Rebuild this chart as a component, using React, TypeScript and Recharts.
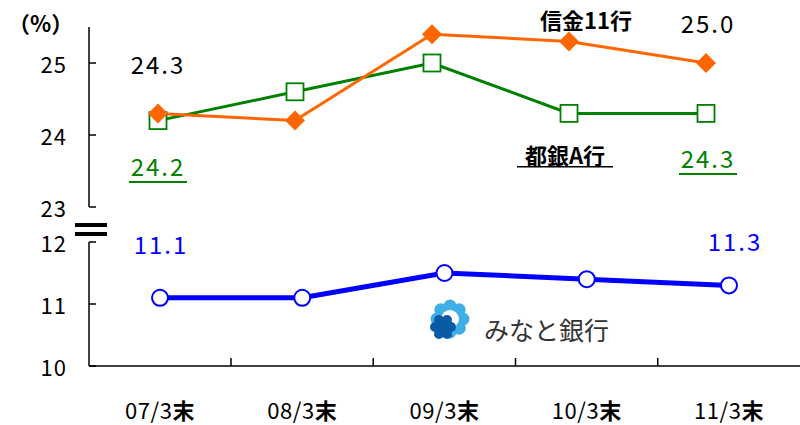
import React from 'react';
import { LineChart, Line, XAxis, YAxis } from 'recharts';

const periods = ['07/3末', '08/3末', '09/3末', '10/3末', '11/3末'];
const shinkin = [24.3, 24.2, 25.4, 25.3, 25.0];
const toginA = [24.2, 24.6, 25.0, 24.3, 24.3];
const minato = [11.1, 11.1, 11.5, 11.4, 11.3];

const upperTicks = [23, 24, 25];
const lowerTicks = [10, 11, 12];

const upperData = periods.map((p, i) => ({ label: p, shinkin: shinkin[i], toginA: toginA[i] }));
const lowerData = periods.map((p, i) => ({ label: p, minato: minato[i] }));

const FONT = '"Noto Sans CJK JP", "Noto Sans", sans-serif';
const W = 800;
const H = 425;

const YTick = (props: any) => {
  const { x, y, payload } = props;
  return (
    <g>
      <line x1={x} y1={y} x2={x + 7} y2={y} stroke="#000" strokeWidth={1.5} />
      <text x={x - 22} y={y} textAnchor="end" dominantBaseline="central" fontSize={22} letterSpacing={1} fontFamily={FONT} fill="#000">
        {payload.value}
      </text>
    </g>
  );
};

const XTick = (props: any) => {
  const { x, y, payload, index } = props;
  const s = String(payload.value);
  const half = 71;
  return (
    <g>
      {index < periods.length - 1 && (
        <line x1={x + half} y1={y} x2={x + half} y2={y - 8} stroke="#000" strokeWidth={1.5} />
      )}
      <text x={x} y={y + 43} textAnchor="middle" dominantBaseline="central" fontSize={22} letterSpacing={0.5} fontFamily={FONT} fill="#000">
        <tspan>{s.slice(0, -1)}</tspan>
        <tspan fontWeight="bold">{s.slice(-1)}</tspan>
      </text>
    </g>
  );
};

const Diamond = (p: any) => {
  const { cx, cy, index } = p;
  const r = 10;
  return (
    <polygon
      key={`d${index}`}
      points={`${cx},${cy - r} ${cx + r},${cy} ${cx},${cy + r} ${cx - r},${cy}`}
      fill="#FF6600"
    />
  );
};

const Square = (p: any) => {
  const { cx, cy, index } = p;
  const s = 8.5;
  return (
    <rect key={`s${index}`} x={cx - s} y={cy - s} width={s * 2} height={s * 2} fill="#fff" stroke="#008000" strokeWidth={1.8} />
  );
};

const Logo = () => {
  const cx = 446;
  const cy = 322;
  const ring = Array.from({ length: 8 }, (_, i) => (i * Math.PI) / 4);
  const inner = Array.from({ length: 6 }, (_, i) => (i * Math.PI) / 3);
  return (
    <g>
      {ring.map((a, i) => (
        <circle key={`o${i}`} cx={cx + 4 + Math.cos(a) * 13} cy={cy - 3 + Math.sin(a) * 13} r={6.5} fill="#3fb0e6" />
      ))}
      <circle cx={cx + 4} cy={cy - 3} r={9} fill="#fff" />
      {inner.map((a, i) => (
        <circle key={`i${i}`} cx={cx - 3 + Math.cos(a) * 8} cy={cy + 5 + Math.sin(a) * 8} r={5} fill="#0a5aa5" />
      ))}
      <circle cx={cx - 3} cy={cy + 5} r={6} fill="#0a5aa5" />
      <text x={484} y={329} fontSize={25} fontFamily={FONT} fill="#333" dominantBaseline="central">
        みなと銀行
      </text>
    </g>
  );
};

const numStyle = { fontSize: 24, letterSpacing: 2, fontFamily: FONT };

export default function App() {
  return (
    <div style={{ position: 'absolute', left: 0, top: 0, width: W, height: H, background: '#fff', fontFamily: FONT }}>
      <div style={{ position: 'absolute', left: 0, top: 0 }}>
        <LineChart width={W} height={H} data={lowerData} margin={{ top: 242, right: 0, bottom: 0, left: 0 }}>
          <XAxis
            dataKey="label"
            height={59}
            padding={{ left: 71, right: 71 }}
            axisLine={{ stroke: '#000', strokeWidth: 1.5 }}
            tickLine={false}
            tickSize={0}
            tickMargin={0}
            tick={<XTick />}
            interval={0}
          />
          <YAxis
            width={89}
            domain={[10, 12]}
            ticks={lowerTicks}
            interval={0}
            axisLine={{ stroke: '#000', strokeWidth: 1.5 }}
            tickLine={false}
            tickSize={0}
            tickMargin={0}
            tick={<YTick />}
          />
          <Line
            dataKey="minato"
            stroke="#0000FF"
            strokeWidth={5}
            dot={{ r: 8, fill: '#fff', stroke: '#0000FF', strokeWidth: 2 }}
            isAnimationActive={false}
          />
        </LineChart>
      </div>
      <div style={{ position: 'absolute', left: 0, top: 0 }}>
        <LineChart width={W} height={225} data={upperData} margin={{ top: 27, right: 25, bottom: 18, left: 0 }}>
          <XAxis dataKey="label" hide padding={{ left: 69, right: 69 }} />
          <YAxis
            width={89}
            domain={[23, 25.5]}
            ticks={upperTicks}
            interval={0}
            axisLine={{ stroke: '#000', strokeWidth: 1.5 }}
            tickLine={false}
            tickSize={0}
            tickMargin={0}
            tick={<YTick />}
          />
          <Line dataKey="toginA" stroke="#008000" strokeWidth={3} dot={<Square />} isAnimationActive={false} />
          <Line dataKey="shinkin" stroke="#FF6600" strokeWidth={3} dot={<Diamond />} isAnimationActive={false} />
        </LineChart>
      </div>
      <svg width={W} height={H} style={{ position: 'absolute', left: 0, top: 0, pointerEvents: 'none' }}>
        <text x={8} y={22} fontSize={22} fontWeight="bold" fontFamily={FONT} dominantBaseline="central">（%）</text>
        <rect x={75} y={223} width={32} height={4} fill="#000" />
        <rect x={75} y={232} width={32} height={4} fill="#000" />
        <text x={158} y={63} {...numStyle} textAnchor="middle" dominantBaseline="central" fill="#000">24.3</text>
        <text x={158} y={165} {...numStyle} textAnchor="middle" dominantBaseline="central" fill="#008000">24.2</text>
        <rect x={129} y={181} width={58} height={2} fill="#008000" />
        <text x={708} y={22} {...numStyle} textAnchor="middle" dominantBaseline="central" fill="#000">25.0</text>
        <text x={708} y={157} {...numStyle} textAnchor="middle" dominantBaseline="central" fill="#008000">24.3</text>
        <rect x={679} y={173} width={58} height={2} fill="#008000" />
        <text x={586} y={19} fontSize={22} fontWeight="bold" fontFamily={FONT} textAnchor="middle" dominantBaseline="central" fill="#000">信金11行</text>
        <text x={565} y={154} fontSize={22} fontWeight="bold" fontFamily={FONT} textAnchor="middle" dominantBaseline="central" fill="#000">都銀A行</text>
        <rect x={517} y={166} width={96} height={1.5} fill="#000" />
        <text x={161} y={243} {...numStyle} textAnchor="middle" dominantBaseline="central" fill="#0000FF">11.1</text>
        <text x={735} y={240} {...numStyle} textAnchor="middle" dominantBaseline="central" fill="#0000FF">11.3</text>
        <Logo />
      </svg>
    </div>
  );
}
